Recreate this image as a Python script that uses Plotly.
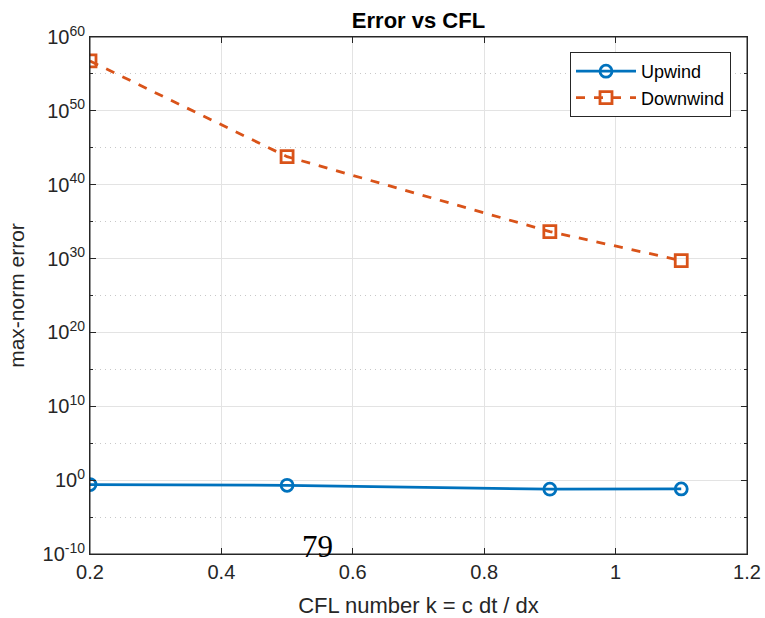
import plotly.graph_objects as go

cfl = [0.2, 0.5, 0.9, 1.1]
upwind = [0.25, 0.2, 0.06, 0.065]
downwind = [5.7e56, 6.3e43, 4.5e33, 5.4e29]

ytick_exp = [-10, 0, 10, 20, 30, 40, 50, 60]
ytick_vals = [10.0 ** e for e in ytick_exp]
ytick_text = ["10<sup>%d</sup>" % e for e in ytick_exp]
minor_vals = [10.0 ** e for e in [-5, 5, 15, 25, 35, 45, 55]]
xtick_vals = [0.2, 0.4, 0.6, 0.8, 1.0, 1.2]
xtick_text = ["0.2", "0.4", "0.6", "0.8", "1", "1.2"]

blue = "#0072BD"
orange = "#D95319"
axc = "#262626"
font = "Liberation Sans, Arial, sans-serif"

L, R, T, B = 90, 747, 37, 554
W, H = 765, 618

fig = go.Figure()
fig.add_trace(go.Scatter(
    x=cfl, y=upwind, name="Upwind", mode="lines+markers",
    line=dict(color=blue, width=2.8),
    marker=dict(symbol="circle-open", size=12, color=blue, line=dict(width=2.8)),
))
fig.add_trace(go.Scatter(
    x=cfl, y=downwind, name="Downwind", mode="lines+markers",
    line=dict(color=orange, width=2.8, dash="dash"),
    marker=dict(symbol="square-open", size=12, color=orange, line=dict(width=2.8)),
))

fig.update_layout(
    width=W, height=H,
    margin=dict(l=L, r=W - R, t=T, b=H - B),
    paper_bgcolor="white", plot_bgcolor="white",
    font=dict(family=font, size=20, color=axc),
    title=dict(text="<b>Error vs CFL</b>", x=(L + R) / 2 / W, xanchor="center",
               y=1 - 20 / H, yanchor="middle",
               font=dict(family=font, size=22, color="black")),
    showlegend=True,
    legend=dict(x=(731 - L) / (R - L), y=(B - 52) / (B - T), xanchor="right", yanchor="top",
                bgcolor="white", bordercolor=axc, borderwidth=1,
                font=dict(family=font, size=18, color="black"),
                tracegroupgap=0, itemwidth=60),
    xaxis=dict(
        range=[0.2, 1.2001], tickvals=xtick_vals, ticktext=xtick_text,
        automargin=False,
        showline=True, linecolor=axc, linewidth=1, mirror="ticks",
        ticks="inside", ticklen=6, tickcolor=axc,
        showgrid=True, gridcolor="#e3e3e3", gridwidth=1, zeroline=False,
        title=dict(text="CFL number k = c dt / dx", font=dict(size=22), standoff=16),
    ),
    yaxis=dict(
        type="log", range=[-10, 60], tickvals=ytick_vals, ticktext=ytick_text,
        automargin=False,
        showline=True, linecolor=axc, linewidth=1, mirror="ticks",
        ticks="inside", ticklen=6, tickcolor=axc,
        showgrid=True, gridcolor="#e3e3e3", gridwidth=1, zeroline=False,
        minor=dict(tickvals=minor_vals, ticks="inside", ticklen=3, tickcolor=axc,
                   showgrid=True, gridcolor="#c8c8c8", griddash="1px,4px", gridwidth=1),
        title=dict(text="max-norm error", font=dict(size=21), standoff=12),
    ),
)

fig.add_shape(type="rect", xref="paper", yref="paper", x0=0, y0=0, x1=1, y1=1,
              line=dict(color=axc, width=1), layer="above")

fig.add_annotation(
    text="79", xref="paper", yref="paper",
    x=(317 - L) / (R - L), y=(B - 546) / (B - T), xanchor="center", yanchor="middle",
    showarrow=False,
    font=dict(family="Liberation Serif, Times New Roman, serif", size=31, color="black"),
)

fig.write_html("out.html")
